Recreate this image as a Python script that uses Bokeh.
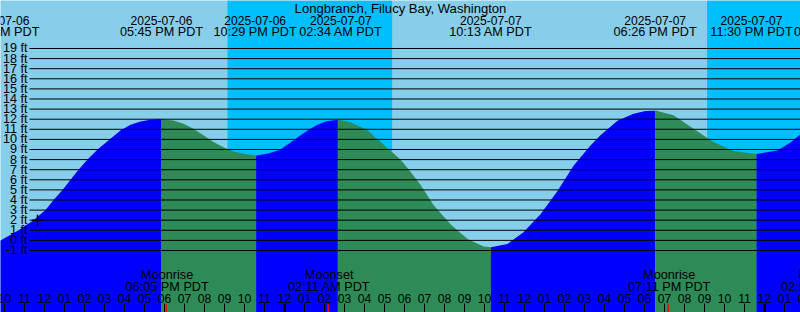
import numpy as np
from bokeh.plotting import figure
from bokeh.models import Range1d
from bokeh.core.properties import value
from bokeh.embed import file_html
from bokeh.resources import INLINE

# ---------------- data (hours since 2025-07-06 00:00 PDT, heights in ft) ----------------
title = "Longbranch, Filucy Bay, Washington"

curve_hours = [9.60, 9.80, 10.70, 11.45, 12.05, 12.45, 12.90, 13.30, 13.70, 14.15, 14.65,
               15.30, 15.80, 16.30, 16.80, 17.30, 17.80, 18.45, 18.95, 19.45, 19.95, 20.45,
               20.95, 21.45, 21.95, 22.60,
               23.20, 23.80, 24.30, 24.80, 25.30, 25.65, 26.10, 26.70, 27.30, 28.15, 28.95,
               29.80, 30.30, 30.80, 31.45, 32.30, 33.15, 33.95, 34.30, 35.15, 35.95, 36.80,
               37.65, 38.45, 39.30, 39.80, 40.65, 41.45, 42.05, 42.55, 43.45, 44.45, 45.45,
               46.45, 47.55, 48.65, 49.30, 49.80, 50.30]
curve_ft = [-0.05, 0.0, 1.0, 2.0, 3.0, 4.0, 5.0, 6.0, 7.0, 8.0, 9.0,
            10.06, 10.88, 11.44, 11.77, 11.94, 12.0, 11.87, 11.54, 11.05, 10.4, 9.73,
            9.23, 8.8, 8.57, 8.4,
            8.6, 9.0, 9.7, 10.4, 11.05, 11.45, 11.8, 11.95, 11.7, 10.9, 9.5,
            8.0, 6.8, 5.5, 3.5, 1.6, 0.15, -0.6, -0.68, -0.35, 0.8, 2.6,
            4.9, 7.4, 9.4, 10.4, 11.85, 12.55, 12.8, 12.85, 12.4, 11.05, 9.75,
            8.85, 8.55, 8.9, 9.7, 10.5, 11.2]

event_hours = [9.65, 17.75, 22.483, 26.567, 34.217, 42.433, 47.5, 51.5]
event_kind = ["low", "high", "low", "high", "low", "high", "low", "high"]
event_dates = ["2025-07-06", "2025-07-06", "2025-07-06", "2025-07-07",
               "2025-07-07", "2025-07-07", "2025-07-07", "2025-07-08"]
event_times = ["09:39 AM PDT", "05:45 PM PDT", "10:29 PM PDT", "02:34 AM PDT",
               "10:13 AM PDT", "06:26 PM PDT", "11:30 PM PDT", "03:30 AM PDT"]

night_start = [21.15, 45.13]
night_end = [29.38, 53.40]

moon_hours = [18.083, 26.183, 43.183, 50.85]
moon_names = ["Moonrise", "Moonset", "Moonrise", "Moonset"]
moon_times = ["06:05 PM PDT", "02:11 AM PDT", "07:11 PM PDT", "02:51 AM PDT"]

level_ticks = list(range(-1, 20))
level_labels = [f"{v} ft" for v in level_ticks]

hour_ticks = list(range(10, 51))
hour_labels = [f"{(h % 12) or 12:02d}" for h in hour_ticks]

mark_hour = 11.65
mark_ft = 2.0

# ---------------- layout / style ----------------
W, H = 800, 312
x_start, x_end = 9.8, 49.8
y_bot, y_top = -7.139, 23.752
DAY, NIGHT = "#87CEEB", "#00BFFF"
RISE, FALL = "#0000FF", "#2E8B57"
FONT = value("Liberation Sans")
shade_shift = 0.1           # drawing lag of the colour change, hours
label_nudge = [0, 1, 0, 4, 1, 1, -4, 0]   # px nudges to avoid overlapping labels


def ypx(px):
    return y_top - px * (y_top - y_bot) / H


def xpx(px):
    return x_start + px * (x_end - x_start) / W


def txt(x, y, t, size="12px", align="center"):
    p.text(x=x, y=y, text=t, text_font=FONT, text_font_size=size,
           text_align=align, text_baseline="middle", text_color="black")


p = figure(width=W, height=H, output_backend="svg", toolbar_location=None,
           x_range=Range1d(x_start, x_end), y_range=Range1d(y_bot, y_top),
           x_axis_location=None, y_axis_location=None, min_border=0,
           background_fill_color=DAY, border_fill_color=DAY, outline_line_color=None)
p.grid.visible = False

# night shading
p.quad(left=night_start, right=night_end, bottom=y_bot, top=y_top,
       fill_color=NIGHT, line_color=None)

# tide fill, coloured by rising / falling
hh = np.array(curve_hours)
ff = np.array(curve_ft)
bounds = [x_start - 1] + [e + shade_shift for e in event_hours] + [x_end + 2]
kinds_before = [("high" if event_kind[0] == "low" else "low")] + event_kind
for i in range(len(bounds) - 1):
    b0, b1 = bounds[i], bounds[i + 1]
    b0c, b1c = max(b0, hh[0]), min(b1, hh[-1])
    if b1c <= b0c:
        continue
    inside = (hh > b0c) & (hh < b1c)
    xs = np.concatenate([[b0c], hh[inside], [b1c]])
    ys = np.interp(xs, hh, ff)
    col = RISE if kinds_before[i] == "low" else FALL
    p.varea(x=xs, y1=np.full(len(xs), y_bot), y2=ys, fill_color=col)

# level lines
p.segment(x0=[xpx(29)] * len(level_ticks), y0=level_ticks,
          x1=[x_end + 1] * len(level_ticks), y1=level_ticks,
          line_color="black", line_width=1)
txt([xpx(27)] * len(level_ticks), level_ticks, level_labels, "12.6px", "right")

# mark
p.scatter(x=[mark_hour], y=[mark_ft], marker="cross", size=11, line_color="black",
          line_width=1.5)

# title
txt([xpx(400)], [ypx(7.5)], [title], "13.1px")

# tide event labels
for h, d, t, nud in zip(event_hours, event_dates, event_times, label_nudge):
    xx = h + (1 + nud) * (x_end - x_start) / W
    txt([xx], [ypx(19.5)], [d], "12.1px")
    txt([xx], [ypx(31.3)], [t], "12.7px")

# moon labels
for h, n, t in zip(moon_hours, moon_names, moon_times):
    xx = h + 1 * (x_end - x_start) / W
    txt([xx], [ypx(274)], [n], "12.7px")
    txt([xx], [ypx(286)], [t], "12.7px")

# hour ticks and labels
txt(hour_ticks, [ypx(297.5)] * len(hour_ticks), hour_labels, "12.2px")
tw = [3 if h % 24 == 0 else 1 for h in hour_ticks]
p.segment(x0=hour_ticks, y0=[ypx(303)] * len(hour_ticks), x1=hour_ticks,
          y1=[ypx(313)] * len(hour_ticks), line_color="black", line_width=tw)
p.segment(x0=moon_hours, y0=[ypx(304)] * len(moon_hours), x1=moon_hours,
          y1=[ypx(313)] * len(moon_hours), line_color="red", line_width=1.5)

open("out.html", "w").write(file_html(p, INLINE))
